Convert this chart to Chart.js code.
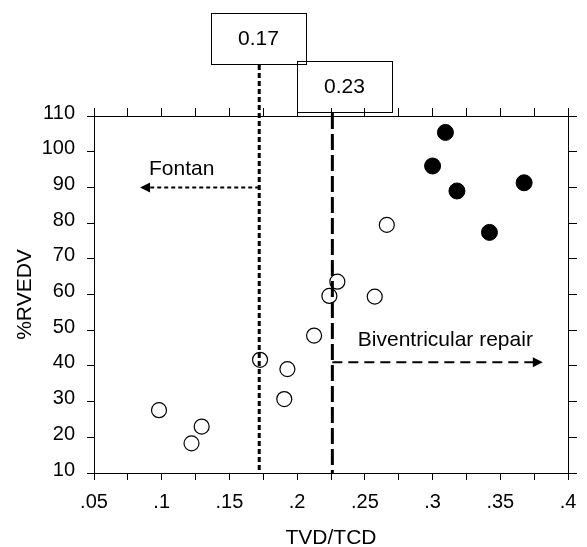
<!DOCTYPE html>
<html>
<head>
<meta charset="utf-8">
<script src="https://cdn.jsdelivr.net/npm/chart.js@4.4.1/dist/chart.umd.min.js"></script>
<style>
  html, body { margin: 0; padding: 0; background: #fff; }
</style>
</head>
<body>
<canvas id="tvdChart" width="587" height="547"></canvas>
<script>
// open circles
const openTVD   = [0.098, 0.122, 0.1295, 0.1726, 0.1905, 0.1928, 0.2125, 0.2238, 0.2297, 0.2573, 0.2662];
const openRVEDV = [27.6, 18.3, 23.0, 41.7, 30.7, 39.1, 48.5, 59.6, 63.6, 59.4, 79.5];
// filled circles
const fillTVD   = [0.300, 0.3095, 0.318, 0.342, 0.3676];
const fillRVEDV = [96.0, 105.4, 89.0, 77.4, 91.3];

// axis ticks
const xTickValues = [0.05, 0.075, 0.1, 0.125, 0.15, 0.175, 0.2, 0.225, 0.25, 0.275, 0.3, 0.325, 0.35, 0.375, 0.4];
const xTickLabels = ['.05', '', '.1', '', '.15', '', '.2', '', '.25', '', '.3', '', '.35', '', '.4'];
const yTickValues = [10, 20, 30, 40, 50, 60, 70, 80, 90, 100, 110];

// cutoffs and annotations
const cutoffValues = [0.172, 0.226];
const cutoffLabels = ['0.17', '0.23'];
const cutoffBoxX = [0.1715, 0.235];
const fontanArrow = { y: 90, xEnd: 0.084, text: 'Fontan', textX: 0.0906, textY: 95.2 };
const biventArrow = { y: 41, xEnd: 0.3814, text: 'Biventricular repair', textX: 0.2448, textY: 47.3 };

const FONT = '"Liberation Sans", Arial, sans-serif';

function arrowHead(ctx, x, y, dir) {
  ctx.beginPath();
  ctx.moveTo(x, y);
  ctx.lineTo(x - dir * 10, y - 5);
  ctx.lineTo(x - dir * 10, y + 5);
  ctx.closePath();
  ctx.fill();
}

const cutoffPlugin = {
  id: 'cutoffs',
  afterDraw(chart) {
    const ctx = chart.ctx;
    const xs = chart.scales.x, ys = chart.scales.y;
    const area = chart.chartArea;
    ctx.save();
    ctx.strokeStyle = '#000';
    ctx.fillStyle = '#000';

    // label boxes
    const boxTops = [area.top - 103, area.top - 55];
    ctx.lineWidth = 1;
    ctx.font = '21px ' + FONT;
    ctx.textAlign = 'center';
    ctx.textBaseline = 'middle';
    for (let i = 0; i < 2; i++) {
      const cx = xs.getPixelForValue(cutoffBoxX[i]);
      ctx.strokeRect(Math.round(cx - 47.5) + 0.5, boxTops[i] + 0.5, 95, 51);
      ctx.fillText(cutoffLabels[i], cx, boxTops[i] + 26);
    }

    // Fontan cutoff (dotted)
    const x1 = xs.getPixelForValue(cutoffValues[0]);
    ctx.lineWidth = 3;
    ctx.setLineDash([5, 3]);
    ctx.beginPath();
    ctx.moveTo(x1, boxTops[0] + 52);
    ctx.lineTo(x1, area.bottom);
    ctx.stroke();

    const fy = ys.getPixelForValue(fontanArrow.y);
    const fEnd = xs.getPixelForValue(fontanArrow.xEnd);
    ctx.lineWidth = 2;
    ctx.setLineDash([4, 3]);
    ctx.beginPath();
    ctx.moveTo(x1, fy);
    ctx.lineTo(fEnd + 8, fy);
    ctx.stroke();
    ctx.setLineDash([]);
    arrowHead(ctx, fEnd, fy, -1);

    // biventricular cutoff (dashed)
    const x2 = xs.getPixelForValue(cutoffValues[1]);
    ctx.lineWidth = 3;
    ctx.setLineDash([16, 5]);
    ctx.beginPath();
    ctx.moveTo(x2, boxTops[1] + 52);
    ctx.lineTo(x2, area.bottom);
    ctx.stroke();

    const by = ys.getPixelForValue(biventArrow.y);
    const bEnd = xs.getPixelForValue(biventArrow.xEnd);
    ctx.lineWidth = 2;
    ctx.setLineDash([10, 6]);
    ctx.beginPath();
    ctx.moveTo(x2, by);
    ctx.lineTo(bEnd - 8, by);
    ctx.stroke();
    ctx.setLineDash([]);
    arrowHead(ctx, bEnd, by, 1);

    // texts
    ctx.font = '21px ' + FONT;
    ctx.textAlign = 'left';
    ctx.fillText(fontanArrow.text, xs.getPixelForValue(fontanArrow.textX), ys.getPixelForValue(fontanArrow.textY));
    ctx.fillText(biventArrow.text, xs.getPixelForValue(biventArrow.textX), ys.getPixelForValue(biventArrow.textY));
    ctx.restore();
  }
};

const tickFont = { family: FONT, size: 20 };
const axisCommon = {
  type: 'linear',
  grid: { drawOnChartArea: false, drawTicks: true, color: '#000', tickColor: '#000' },
  border: { display: true, color: '#000', width: 1 }
};

const ctx = document.getElementById('tvdChart').getContext('2d');
const tvdChart = new Chart(ctx, {
  type: 'scatter',
  data: {
    datasets: [
      {
        label: 'open',
        data: openTVD.map((x, i) => ({ x: x, y: openRVEDV[i] })),
        pointRadius: 7.5,
        pointBorderWidth: 1.2,
        pointBorderColor: '#000',
        pointBackgroundColor: 'rgba(0,0,0,0)'
      },
      {
        label: 'filled',
        data: fillTVD.map((x, i) => ({ x: x, y: fillRVEDV[i] })),
        pointRadius: 8,
        pointBorderWidth: 1,
        pointBorderColor: '#000',
        pointBackgroundColor: '#000'
      }
    ]
  },
  options: {
    responsive: false,
    animation: false,
    layout: { padding: 0 },
    plugins: { legend: { display: false }, tooltip: { enabled: false } },
    scales: {
      x: {
        ...axisCommon,
        position: 'bottom',
        min: 0.05, max: 0.4,
        afterBuildTicks: s => { s.ticks = xTickValues.map(v => ({ value: v })); },
        afterFit: s => { s.height = 74; },
        grid: { ...axisCommon.grid, tickLength: 7 },
        ticks: { autoSkip: false, maxRotation: 0, padding: 10, color: '#000', font: tickFont,
                 callback: (v, i) => xTickLabels[i] },
        title: { display: true, text: 'TVD/TCD', color: '#000', padding: 0,
                 font: { family: FONT, size: 21, lineHeight: 0.85 } }
      },
      x2: {
        ...axisCommon,
        position: 'top',
        min: 0.05, max: 0.4,
        afterBuildTicks: s => { s.ticks = xTickValues.map(v => ({ value: v })); },
        afterFit: s => { s.height = 116; },
        grid: { ...axisCommon.grid, tickLength: 8 },
        ticks: { display: false }
      },
      y: {
        ...axisCommon,
        position: 'left',
        min: 10, max: 110,
        afterBuildTicks: s => { s.ticks = yTickValues.map(v => ({ value: v })); },
        afterFit: s => { s.width = 94; },
        grid: { ...axisCommon.grid, tickLength: 7 },
        ticks: { padding: 12, labelOffset: -3, color: '#000', font: tickFont },
        title: { display: true, text: '%RVEDV', color: '#000', padding: { top: 13, bottom: 0 },
                 font: { family: FONT, size: 21 } }
      },
      y2: {
        ...axisCommon,
        position: 'right',
        min: 10, max: 110,
        afterBuildTicks: s => { s.ticks = yTickValues.map(v => ({ value: v })); },
        afterFit: s => { s.width = 19; },
        grid: { ...axisCommon.grid, tickLength: 9 },
        ticks: { display: false }
      }
    }
  },
  plugins: [cutoffPlugin]
});
</script>
</body>
</html>
